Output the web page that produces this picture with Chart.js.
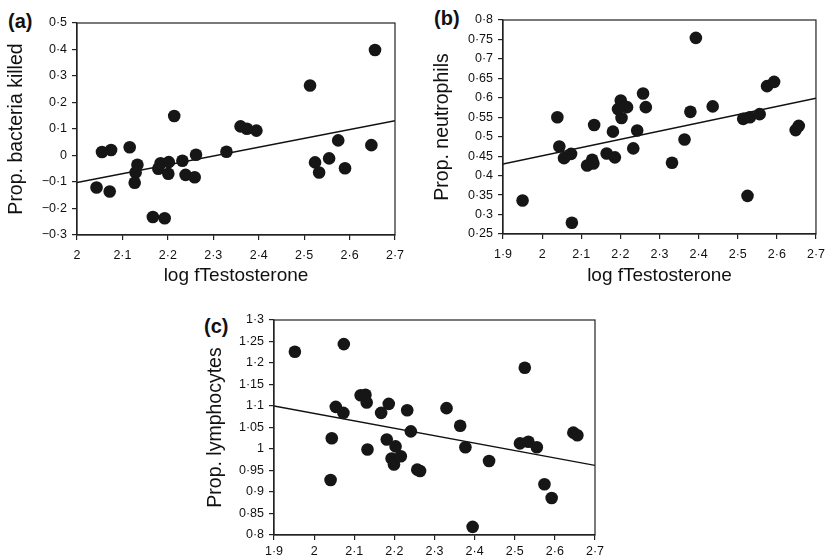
<!DOCTYPE html>
<html>
<head>
<meta charset="utf-8">
<script src="https://cdn.jsdelivr.net/npm/chart.js@4"></script>
<style>
  html, body { margin:0; padding:0; background:#fff; width:833px; height:556px; overflow:hidden; }
  canvas { position:absolute; }
  .lbl { position:absolute; font-family:"Liberation Sans", Arial, sans-serif; font-weight:bold; font-size:20px; color:#111; line-height:1; }
</style>
</head>
<body>
<div class="lbl" style="left:8px;top:11px;">(a)</div>
<div class="lbl" style="left:434px;top:8px;">(b)</div>
<div class="lbl" style="left:204px;top:316px;">(c)</div>
<canvas id="ca" style="left:0px;top:0px;"></canvas>
<canvas id="cb" style="left:415px;top:0px;"></canvas>
<canvas id="cc" style="left:190px;top:300px;"></canvas>
<script>
// ---- Panel (a): proportion of bacteria killed ----
const aX = [2.043,2.055,2.075,2.072,2.116,2.133,2.129,2.127,2.167,2.193,2.179,2.184,2.202,2.201,2.214,2.232,2.239,2.259,2.262,2.329,2.360,2.374,2.395,2.513,2.524,2.533,2.555,2.575,2.590,2.648,2.656];
const aY = [-0.121,0.013,0.021,-0.136,0.031,-0.035,-0.064,-0.103,-0.232,-0.237,-0.050,-0.029,-0.025,-0.069,0.149,-0.020,-0.073,-0.082,0.003,0.014,0.110,0.101,0.094,0.264,-0.026,-0.064,-0.011,0.057,-0.048,0.039,0.398];
const aFitX = [2.0, 2.7];
const aFitY = [-0.102, 0.131];
const aXTicks = [2.0,2.1,2.2,2.3,2.4,2.5,2.6,2.7];
const aYTicks = [-0.3,-0.2,-0.1,0,0.1,0.2,0.3,0.4,0.5];

// ---- Panel (b): proportion of neutrophils ----
const bX = [1.950,2.039,2.044,2.056,2.074,2.076,2.115,2.128,2.131,2.133,2.165,2.181,2.186,2.194,2.201,2.203,2.217,2.233,2.243,2.258,2.265,2.332,2.364,2.379,2.393,2.436,2.514,2.531,2.525,2.556,2.575,2.593,2.648,2.656];
const bY = [0.336,0.550,0.475,0.445,0.456,0.279,0.426,0.441,0.431,0.530,0.457,0.513,0.447,0.571,0.593,0.548,0.576,0.470,0.516,0.611,0.576,0.433,0.493,0.564,0.754,0.578,0.546,0.550,0.348,0.558,0.630,0.641,0.517,0.528];
const bFitX = [1.9, 2.7];
const bFitY = [0.430, 0.599];
const bXTicks = [1.9,2.0,2.1,2.2,2.3,2.4,2.5,2.6,2.7];
const bYTicks = [0.25,0.3,0.35,0.4,0.45,0.5,0.55,0.6,0.65,0.7,0.75,0.8];

// ---- Panel (c): proportion of lymphocytes ----
const cX = [1.952,2.041,2.044,2.054,2.073,2.074,2.116,2.128,2.131,2.133,2.167,2.181,2.186,2.193,2.199,2.203,2.216,2.232,2.241,2.257,2.264,2.330,2.364,2.377,2.395,2.436,2.513,2.525,2.534,2.555,2.574,2.592,2.646,2.656];
const cY = [1.226,0.928,1.025,1.098,1.084,1.244,1.125,1.126,1.108,0.999,1.084,1.022,1.105,0.978,0.964,1.006,0.983,1.090,1.041,0.952,0.949,1.095,1.054,1.004,0.819,0.972,1.013,1.189,1.017,1.004,0.918,0.886,1.038,1.032];
const cFitX = [1.9, 2.7];
const cFitY = [1.100, 0.962];
const cXTicks = [1.9,2.0,2.1,2.2,2.3,2.4,2.5,2.6,2.7];
const cYTicks = [0.8,0.85,0.9,0.95,1.0,1.05,1.1,1.15,1.2,1.25,1.3];

const FONT = '"Liberation Sans", Arial, sans-serif';
const INK = '#161616';
const TXT = '#111';

function fmt(v) {
  return parseFloat(Number(v).toFixed(2)).toString().replace('-', '\u2212').replace('.', '\u00b7');
}
function pts(xs, ys) { return xs.map((x, i) => ({ x: x, y: ys[i] })); }

const boxPlugin = {
  id: 'box',
  afterDraw(chart) {
    const { ctx, chartArea: a } = chart;
    ctx.save();
    ctx.strokeStyle = '#222';
    ctx.lineWidth = 1.2;
    ctx.strokeRect(a.left, a.top, a.right - a.left, a.bottom - a.top);
    ctx.restore();
  }
};

function makeChart(id, cfg) {
  const el = document.getElementById(id);
  el.width = cfg.w; el.height = cfg.h;
  el.style.width = cfg.w + 'px'; el.style.height = cfg.h + 'px';
  return new Chart(el, {
    type: 'scatter',
    data: {
      datasets: [
        { type: 'line', data: pts(cfg.fitX, cfg.fitY), borderColor: '#111', borderWidth: 1.4,
          pointRadius: 0, fill: false, tension: 0, order: 2 },
        { data: pts(cfg.xs, cfg.ys), backgroundColor: INK, borderWidth: 0,
          pointRadius: 6.3, pointHoverRadius: 6.3, order: 1 }
      ]
    },
    options: {
      responsive: false, animation: false, devicePixelRatio: 1,
      layout: { padding: { top: cfg.padTop, right: cfg.padRight, left: 0, bottom: 0 } },
      plugins: { legend: { display: false }, tooltip: { enabled: false } },
      scales: {
        x: {
          type: 'linear', min: cfg.xTicks[0], max: cfg.xTicks[cfg.xTicks.length - 1],
          afterBuildTicks: s => { s.ticks = cfg.xTicks.map(v => ({ value: v })); },
          afterFit: s => { s.height = cfg.xH; },
          grid: { drawOnChartArea: false, drawTicks: true, tickLength: 5, color: '#222', lineWidth: 1.2 },
          border: { display: true, color: '#222', width: 1.2 },
          ticks: { callback: v => fmt(v), autoSkip: false, maxRotation: 0, padding: cfg.xTickPad,
                   color: TXT, font: { family: FONT, size: cfg.tickSize } },
          title: { display: !!cfg.xTitle, text: cfg.xTitle || '', color: TXT,
                   font: { family: FONT, size: 19 }, padding: { top: 0, bottom: cfg.xTitlePad } }
        },
        y: {
          type: 'linear', min: cfg.yTicks[0], max: cfg.yTicks[cfg.yTicks.length - 1],
          afterBuildTicks: s => { s.ticks = cfg.yTicks.map(v => ({ value: v })); },
          afterFit: s => { s.width = cfg.yW; },
          grid: { drawOnChartArea: false, drawTicks: true, tickLength: 5, color: '#222', lineWidth: 1.2 },
          border: { display: true, color: '#222', width: 1.2 },
          ticks: { callback: v => fmt(v), autoSkip: false, padding: cfg.yTickPad,
                   color: TXT, font: { family: FONT, size: cfg.tickSize } },
          title: { display: true, text: cfg.yTitle, color: TXT,
                   font: { family: FONT, size: 19.5 }, padding: { top: cfg.yTitlePad, bottom: 0 } }
        }
      }
    },
    plugins: [boxPlugin]
  });
}

makeChart('ca', { w: 415, h: 290, padTop: 23, padRight: 20, yW: 77, xH: 55,
  xs: aX, ys: aY, fitX: aFitX, fitY: aFitY, xTicks: aXTicks, yTicks: aYTicks,
  tickSize: 12.5, xTickPad: 8, yTickPad: 5, xTitle: 'log fTestosterone', xTitlePad: 3,
  yTitle: 'Prop. bacteria killed', yTitlePad: 4.5 });

makeChart('cb', { w: 418, h: 290, padTop: 20, padRight: 10, yW: 88, xH: 56,
  xs: bX, ys: bY, fitX: bFitX, fitY: bFitY, xTicks: bXTicks, yTicks: bYTicks,
  tickSize: 12.5, xTickPad: 8, yTickPad: 5, xTitle: 'log fTestosterone', xTitlePad: 2.6,
  yTitle: 'Prop. neutrophils', yTitlePad: 15.5 });

makeChart('cc', { w: 443, h: 256, padTop: 20, padRight: 38, yW: 84, xH: 21,
  xs: cX, ys: cY, fitX: cFitX, fitY: cFitY, xTicks: cXTicks, yTicks: cYTicks,
  tickSize: 12.5, xTickPad: 4, yTickPad: 5, xTitle: '', xTitlePad: 0,
  yTitle: 'Prop. lymphocytes', yTitlePad: 13.5 });
</script>
</body>
</html>
